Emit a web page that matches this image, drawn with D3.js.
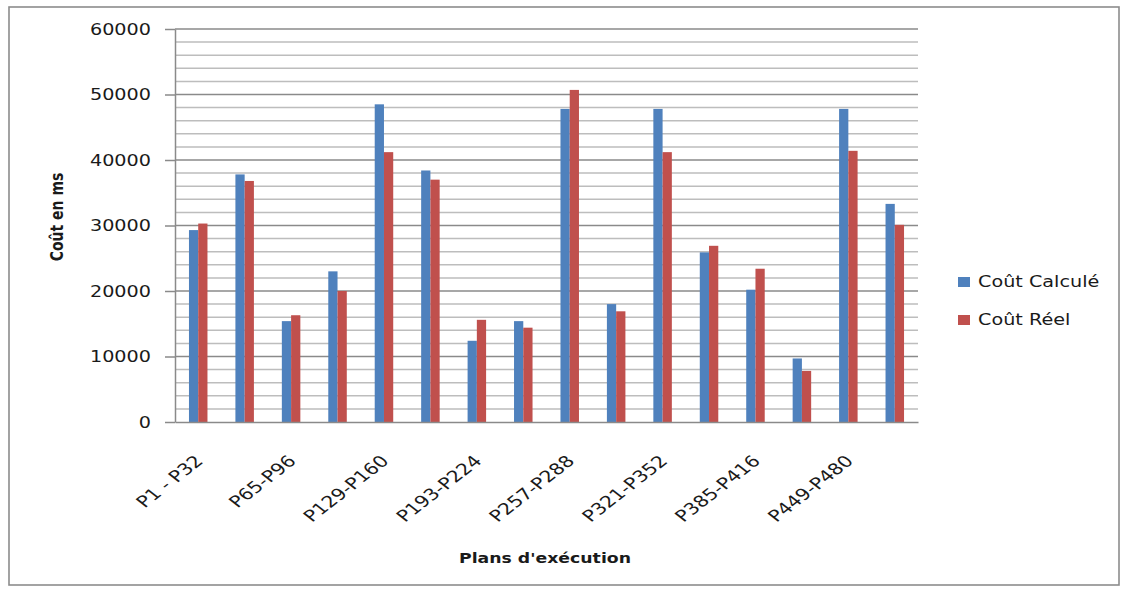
<!DOCTYPE html>
<html>
<head>
<meta charset="utf-8">
<script src="https://cdn.jsdelivr.net/npm/d3@7/dist/d3.min.js"></script>
<style>
  html, body { margin: 0; padding: 0; background: #fff; }
  svg { display: block; }
  text { font-family: "DejaVu Sans", Verdana, sans-serif; fill: #1a1a1a; }
</style>
</head>
<body>
<svg id="chart" width="1133" height="592"></svg>
<script>
// Execution plan groups (32 plans each)
const categories = [
  "P1 - P32", "P33-P64", "P65-P96", "P97-P128",
  "P129-P160", "P161-P192", "P193-P224", "P225-P256",
  "P257-P288", "P289-P320", "P321-P352", "P353-P384",
  "P385-P416", "P417-P448", "P449-P480", "P481-P512"
];
const seriesNames = ["Coût Calculé", "Coût Réel"];
const coutCalcule = [29300, 37800, 15400, 23000, 48500, 38400, 12400, 15400,
                     47800, 18000, 47800, 25900, 20200, 9700, 47800, 33300];
const coutReel    = [30300, 36800, 16300, 20000, 41200, 37000, 15600, 14400,
                     50700, 16900, 41200, 26900, 23400, 7800, 41400, 30100];
const yTicks = [0, 10000, 20000, 30000, 40000, 50000, 60000];
const yMinorStep = 2000;
const yMax = 60000;
const colors = ["#4f81bd", "#c0504d"];
const xTitle = "Plans d'exécution";
const yTitle = "Coût en ms";

// text is drawn horizontally widened
const SX = 1.28;

const svg = d3.select("#chart");

// outer chart frame
svg.append("rect")
  .attr("x", 9).attr("y", 7).attr("width", 1110).attr("height", 578)
  .attr("fill", "#fff").attr("stroke", "#8c8c8c").attr("stroke-width", 1.6);

const plot = { left: 175, right: 918, top: 29, bottom: 422 };

const x0 = d3.scaleBand().domain(categories).range([plot.left, plot.right]);
const x1 = d3.scaleBand().domain(seriesNames).range([0, x0.bandwidth()]).paddingOuter(1.51);
const y = d3.scaleLinear().domain([0, yMax]).range([plot.bottom, plot.top]);

// minor gridlines
const minor = d3.range(yMinorStep, yMax, yMinorStep).filter(v => v % 10000 !== 0);
svg.append("g").selectAll("line").data(minor).join("line")
  .attr("x1", plot.left).attr("x2", plot.right)
  .attr("y1", d => y(d)).attr("y2", d => y(d))
  .attr("stroke", "#bdbdbd").attr("stroke-width", 1.5);

// major gridlines
svg.append("g").selectAll("line").data(yTicks.filter(v => v > 0)).join("line")
  .attr("x1", plot.left).attr("x2", plot.right)
  .attr("y1", d => y(d)).attr("y2", d => y(d))
  .attr("stroke", "#8a8a8a").attr("stroke-width", 1.5);

// bars
const rows = categories.map((c, i) => ({ cat: c, values: [coutCalcule[i], coutReel[i]] }));
const groups = svg.append("g").selectAll("g").data(rows).join("g")
  .attr("transform", d => `translate(${x0(d.cat)},0)`);
groups.selectAll("rect")
  .data(d => d.values.map((v, k) => ({ key: seriesNames[k], value: v, k })))
  .join("rect")
  .attr("x", d => x1(d.key))
  .attr("width", x1.bandwidth())
  .attr("y", d => y(d.value))
  .attr("height", d => y(0) - y(d.value))
  .attr("fill", d => colors[d.k]);

// y axis
const yAxis = svg.append("g")
  .attr("transform", `translate(${plot.left},0)`)
  .call(d3.axisLeft(y).tickValues(yTicks).tickFormat(d3.format("d")).tickSize(10).tickPadding(14).tickSizeOuter(0));
yAxis.select(".domain").attr("stroke", "#8a8a8a").attr("stroke-width", 1.5);
yAxis.selectAll(".tick line").attr("stroke", "#8a8a8a").attr("stroke-width", 1.5);
yAxis.selectAll(".tick text")
  .style("font-size", "15px")
  .attr("fill", "#1a1a1a")
  .each(function () {
    const t = d3.select(this);
    const xx = +t.attr("x");
    t.attr("x", 0).attr("dy", "0.36em").attr("transform", `translate(${xx},0) scale(${SX},1)`);
  });

// x axis
const xAxis = svg.append("g")
  .attr("transform", `translate(0,${plot.bottom})`)
  .call(d3.axisBottom(x0).tickValues(categories.filter((d, i) => i % 2 === 0)).tickSize(0).tickSizeOuter(0));
xAxis.select(".domain").attr("stroke", "#8a8a8a").attr("stroke-width", 1.5);
xAxis.selectAll(".tick text")
  .style("font-size", "16px")
  .attr("fill", "#1a1a1a")
  .attr("text-anchor", "end")
  .attr("x", 0).attr("y", 0).attr("dy", 0)
  .attr("transform", `translate(6,40) scale(${SX},1) rotate(-45)`);

// axis titles
svg.append("text")
  .attr("text-anchor", "middle")
  .style("font-size", "13.5px").style("font-weight", "bold")
  .attr("transform", `translate(545,563) scale(${SX},1)`)
  .text(xTitle);

svg.append("text")
  .attr("text-anchor", "middle")
  .style("font-size", "14px").style("font-weight", "bold")
  .attr("transform", `translate(63,217) scale(${SX},1) rotate(-90)`)
  .text(yTitle);

// legend
const legend = svg.append("g").selectAll("g").data(seriesNames).join("g")
  .attr("transform", (d, i) => `translate(958,${277 + i * 38})`);
legend.append("rect")
  .attr("width", 12).attr("height", 10)
  .attr("fill", (d, i) => colors[i]);
legend.append("text")
  .style("font-size", "15px")
  .attr("transform", `translate(20,10) scale(${SX},1)`)
  .text(d => d);
</script>
</body>
</html>
